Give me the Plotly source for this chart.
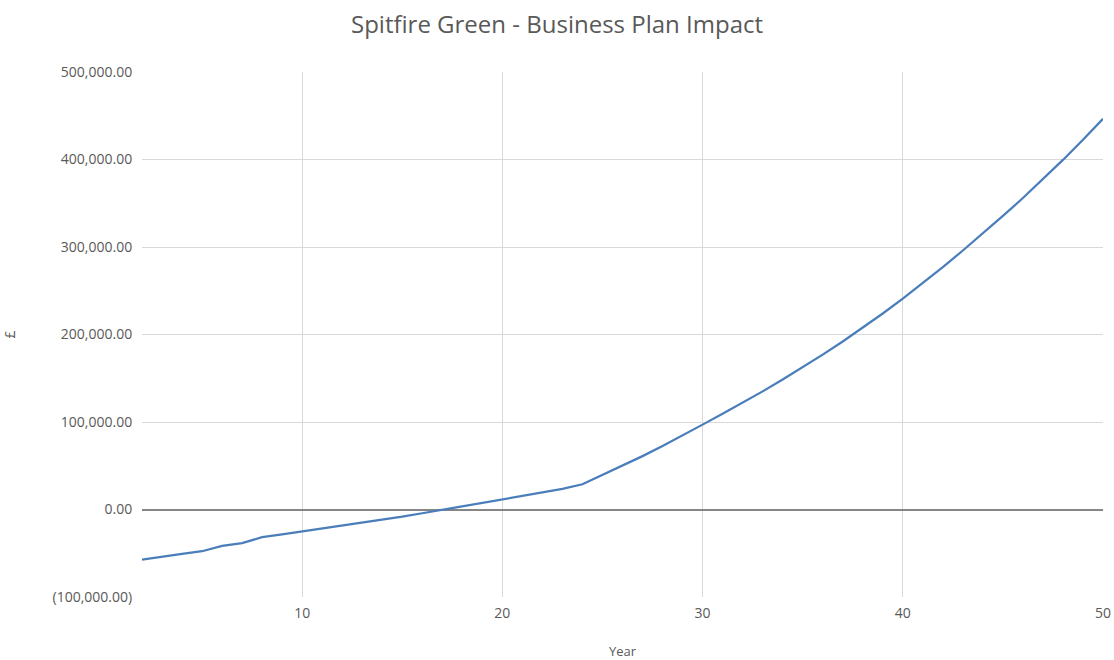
import plotly.graph_objects as go

years = list(range(2, 51))
impact = [
    -57200, -53600, -50700, -47700, -41600, -38500, -31600, -28500, -25200,
    -22000, -18800, -15400, -11900, -8200, -4300, -300, 3700, 7600, 11400,
    15200, 19100, 23500, 28800, 39500, 50000, 61000, 72500, 84500, 97000,
    109500, 122000, 135000, 148500, 162500, 177000, 192000, 207500, 224000,
    241000, 258500, 277000, 296000, 315500, 335500, 356000, 377500, 399500,
    422500, 446500,
]

y_tickvals = [-100000, 0, 100000, 200000, 300000, 400000, 500000]
y_ticktext = ["(100,000.00)", "0.00", "100,000.00", "200,000.00",
              "300,000.00", "400,000.00", "500,000.00"]
x_tickvals = [10, 20, 30, 40, 50]

font_family = "Open Sans, Liberation Sans, sans-serif"
text_grey = "#595959"

fig = go.Figure()
fig.add_trace(go.Scatter(
    x=years, y=impact, mode="lines",
    line=dict(color="#4a7ebb", width=2.25),
    showlegend=False,
))

fig.update_layout(
    width=1114, height=660,
    margin=dict(l=142, r=11, t=72, b=63, autoexpand=False),
    paper_bgcolor="white", plot_bgcolor="white",
    title=dict(text="Spitfire Green - Business Plan Impact",
               x=0.5, xanchor="center", y=0.962, yanchor="middle",
               font=dict(family=font_family, size=24, color=text_grey)),
    font=dict(family=font_family, color=text_grey, size=13),
)
fig.update_xaxes(
    range=[2, 50], tickvals=x_tickvals,
    showgrid=True, gridcolor="#d9d9d9", gridwidth=1,
    zeroline=False, showline=False, automargin=False,
    ticks="outside", ticklen=3, tickcolor="rgba(0,0,0,0)",
    tickfont=dict(size=14, color=text_grey),
    title=dict(text="Year", font=dict(size=13, color=text_grey), standoff=30),
)
fig.update_yaxes(
    range=[-100000, 500000], tickvals=y_tickvals, ticktext=y_ticktext,
    showgrid=True, gridcolor="#d9d9d9", gridwidth=1,
    zeroline=True, zerolinecolor="#868686", zerolinewidth=1.5,
    automargin=False,
    ticks="outside", ticklen=6, tickcolor="rgba(0,0,0,0)",
    tickfont=dict(size=14, color=text_grey),
    title=dict(text="£", font=dict(size=14, color=text_grey), standoff=36),
)

fig.write_html("out.html")
